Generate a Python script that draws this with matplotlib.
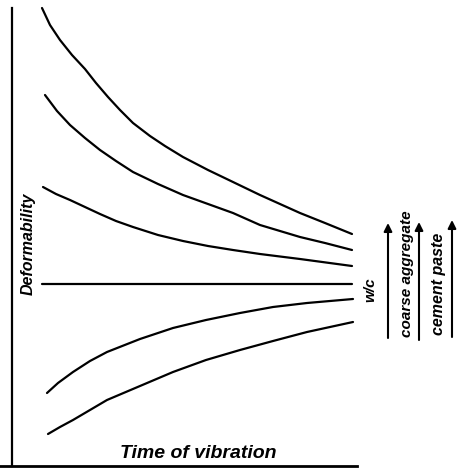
import matplotlib
matplotlib.use('Agg')
import matplotlib.pyplot as plt

plt.rcParams['font.family'] = ['Liberation Sans', 'DejaVu Sans']

# 曲线数据 (时间, 变形能力) - 从原图读取
c1_t = [30, 38, 48, 60, 73, 84, 96, 108, 121, 138, 153, 171, 196, 221, 248, 268, 288, 313, 340]
c1_d = [458, 441, 426, 411, 397, 383, 369, 356, 343, 330, 320, 309, 296, 284, 271, 262, 253, 243, 232]

c2_t = [33, 45, 58, 73, 88, 104, 121, 146, 171, 196, 221, 248, 288, 313, 340]
c2_d = [371, 355, 341, 328, 316, 305, 294, 282, 271, 262, 253, 241, 229, 223, 216]

c3_t = [31, 44, 58, 73, 88, 104, 121, 146, 171, 196, 221, 248, 288, 340]
c3_d = [279, 272, 266, 259, 252, 245, 239, 231, 225, 220, 216, 212, 207, 200]

c4_t = [30, 340]
c4_d = [182, 182]

c5_t = [35, 46, 61, 78, 95, 128, 161, 194, 228, 261, 295, 341]
c5_d = [73, 83, 94, 105, 114, 127, 138, 146, 153, 159, 163, 167]

c6_t = [36, 48, 61, 78, 95, 128, 161, 194, 228, 261, 295, 318, 341]
c6_d = [32, 39, 46, 56, 66, 80, 94, 106, 116, 125, 134, 139, 144]

curves = [(c1_t, c1_d), (c2_t, c2_d), (c3_t, c3_d),
          (c4_t, c4_d), (c5_t, c5_d), (c6_t, c6_d)]

# 右侧标签与箭头
side_labels = ['w/c', 'coarse aggregate', 'cement paste']

fig = plt.figure(figsize=(4.59, 4.68), dpi=100)
ax = fig.add_axes([0, 2 / 468, 357 / 459, 458 / 468])
ax.set_xlim(-12, 345)
ax.set_ylim(0, 458)

for t, d in curves:
    ax.plot(t, d, color='black', lw=1.6, solid_capstyle='round',
            solid_joinstyle='round', clip_on=False)

# 坐标轴
ax.spines['top'].set_visible(False)
ax.spines['right'].set_visible(False)
ax.spines['left'].set_position(('data', 0))
ax.spines['left'].set_linewidth(1.6)
ax.spines['bottom'].set_linewidth(2.0)
ax.set_xticks([])
ax.set_yticks([])
ax.patch.set_alpha(0)

txt = dict(style='italic', weight='bold', color='black')
ax.text(186, 4, 'Time of vibration', ha='center', va='bottom', fontsize=14, **txt)
ax.text(16, 222, 'Deformability', rotation=90, ha='center', va='center',
        fontsize=11.5, **txt)

# 右侧说明
ax.text(358, 176, side_labels[0], rotation=90, ha='center', va='center',
        fontsize=11, clip_on=False, **txt)
ax.text(395, 192, side_labels[1], rotation=90, ha='center', va='center',
        fontsize=11, clip_on=False, **txt)
ax.text(426, 182, side_labels[2], rotation=90, ha='center', va='center',
        fontsize=11.5, clip_on=False, **txt)

for x, y0, y1 in [(376, 128, 243), (407, 126, 244), (440, 129, 246)]:
    ax.annotate('', xy=(x, y1), xytext=(x, y0), annotation_clip=False,
                arrowprops=dict(arrowstyle='-|>', lw=1.5, color='black',
                                mutation_scale=12, shrinkA=0, shrinkB=0))

fig.savefig('out.png', dpi=100, facecolor='white')
